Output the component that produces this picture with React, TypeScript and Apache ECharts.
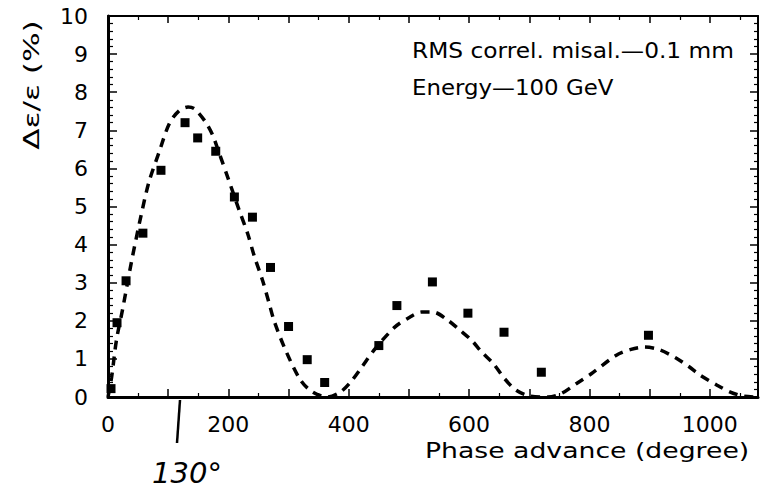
import React, { useEffect, useRef } from "react";
import * as echarts from "echarts";

// Measured emittance growth points (phase advance in degrees, Δε/ε in %)
const pointPhase = [5, 15, 30, 58, 88, 128, 149, 179, 210, 240, 270, 300, 331, 360, 450, 480, 539, 598, 658, 720, 898];
const pointGrowth = [0.22, 1.95, 3.05, 4.3, 5.95, 7.2, 6.8, 6.45, 5.25, 4.72, 3.4, 1.85, 0.98, 0.38, 1.35, 2.4, 3.02, 2.2, 1.7, 0.65, 1.62];

// Dashed theoretical curve
const curvePhase = [0, 6, 14, 24, 39, 55, 68, 85, 102, 118, 133, 144, 162, 174, 185, 200, 218, 232, 243, 257, 267, 276, 295, 320, 340, 364, 386, 403, 422, 444, 477, 502, 521, 540, 565, 585, 604, 621, 640, 659, 678, 700, 731, 753, 778, 803, 844, 869, 891, 916, 943, 965, 984, 1012, 1034, 1056, 1075];
const curveGrowth = [0, 0.52, 1.49, 2.28, 3.55, 4.77, 5.64, 6.43, 7.18, 7.51, 7.61, 7.56, 7.22, 6.87, 6.39, 5.72, 4.9, 4.29, 3.7, 3.05, 2.5, 2.0, 1.23, 0.44, 0.13, 0, 0.13, 0.39, 0.79, 1.27, 1.84, 2.1, 2.23, 2.23, 2.01, 1.75, 1.49, 1.18, 0.88, 0.48, 0.18, 0.03, 0, 0.09, 0.35, 0.61, 1.09, 1.25, 1.31, 1.24, 1.03, 0.8, 0.57, 0.31, 0.13, 0.02, 0];

const xTickLabels = ["0", "200", "400", "600", "800", "1000"];

const xTitle = "Phase advance (degree)";
const yTitle = "Δε/ε (%)";
const note1 = "RMS correl. misal.—0.1 mm";
const note2 = "Energy—100 GeV";
const handNote = "130°";

export default function App() {
  const ref = useRef<HTMLDivElement>(null);
  useEffect(() => {
    if (!ref.current) return;
    const chart = echarts.init(ref.current, null, { renderer: "svg" });
    const font = "DejaVu Sans";
    const black = "#000";
    const baseX = {
      type: "value",
      min: 0,
      max: 1080,
      interval: 100,
      splitLine: { show: false },
    };
    const baseY = {
      type: "value",
      min: 0,
      max: 10,
      interval: 1,
      splitLine: { show: false },
    };
    chart.setOption({
      animation: false,
      backgroundColor: "#fff",
      textStyle: { fontFamily: font },
      grid: { left: 108, right: 2, top: 16, bottom: 95, containLabel: false },
      xAxis: [
        {
          ...baseX,
          position: "bottom",
          axisLine: { onZero: false, lineStyle: { color: black, width: 3 } },
          axisTick: { inside: true, length: 8, lineStyle: { color: black, width: 1.5 } },
          minorTick: { show: true, splitNumber: 2, length: 4, lineStyle: { color: black, width: 1.2 } },
          axisLabel: {
            color: black,
            fontSize: 22,
            fontFamily: font,
            margin: 16,
            showMaxLabel: true,
            formatter: (v: number) => (xTickLabels.includes(String(v)) ? String(v) : ""),
          },
        },
        {
          ...baseX,
          position: "top",
          axisLine: { onZero: false, lineStyle: { color: black, width: 2 } },
          axisTick: { inside: true, length: 7, lineStyle: { color: black, width: 1.5 } },
          minorTick: { show: true, splitNumber: 2, length: 4, lineStyle: { color: black, width: 1.2 } },
          axisLabel: { show: false },
        },
      ],
      yAxis: [
        {
          ...baseY,
          position: "left",
          axisLine: { onZero: false, lineStyle: { color: black, width: 3 } },
          axisTick: { inside: true, length: 9, lineStyle: { color: black, width: 1.5 } },
          minorTick: { show: true, splitNumber: 5, length: 5, lineStyle: { color: black, width: 1.2 } },
          axisLabel: { color: black, fontSize: 22, fontFamily: font, margin: 20 },
        },
        {
          ...baseY,
          position: "right",
          axisLine: { onZero: false, lineStyle: { color: black, width: 2 } },
          axisTick: { inside: true, length: 8, lineStyle: { color: black, width: 1.5 } },
          minorTick: { show: true, splitNumber: 5, length: 4, lineStyle: { color: black, width: 1.2 } },
          axisLabel: { show: false },
        },
      ],
      series: [
        {
          type: "line",
          xAxisIndex: 0,
          yAxisIndex: 0,
          data: curvePhase.map((x, i) => [x, curveGrowth[i]]),
          showSymbol: false,
          smooth: 0.3,
          lineStyle: { color: black, width: 3.5, type: [9, 7] },
          z: 2,
        },
        {
          type: "scatter",
          xAxisIndex: 0,
          yAxisIndex: 0,
          data: pointPhase.map((x, i) => [x, pointGrowth[i]]),
          symbol: "rect",
          symbolSize: 9,
          itemStyle: { color: black, opacity: 1 },
          z: 3,
        },
      ],
      graphic: [
        {
          type: "text",
          x: 412,
          y: 50,
          scaleX: 1.11,
          style: { text: note1, font: `21px '${font}'`, fill: black, textAlign: "left", textVerticalAlign: "middle" },
        },
        {
          type: "text",
          x: 412,
          y: 88,
          scaleX: 1.09,
          style: { text: note2, font: `21px '${font}'`, fill: black, textAlign: "left", textVerticalAlign: "middle" },
        },
        {
          type: "text",
          x: 425,
          y: 451,
          scaleX: 1.27,
          style: { text: xTitle, font: `21px '${font}'`, fill: black, textAlign: "left", textVerticalAlign: "middle" },
        },
        {
          type: "text",
          x: 31,
          y: 85,
          rotation: Math.PI / 2,
          scaleX: 1.42,
          style: { text: yTitle, font: `22px '${font}'`, fill: black, textAlign: "center", textVerticalAlign: "middle" },
        },
        {
          type: "line",
          shape: { x1: 180, y1: 400, x2: 177, y2: 443 },
          style: { stroke: black, lineWidth: 2.5 },
        },
        {
          type: "text",
          x: 187,
          y: 473,
          style: { text: handNote, font: `italic 29px '${font}'`, fill: black, textAlign: "center", textVerticalAlign: "middle" },
        },
      ],
    });
    return () => chart.dispose();
  }, []);
  return (
    <div
      ref={ref}
      style={{ position: "fixed", left: 0, top: 0, width: 761, height: 492, background: "#fff" }}
    />
  );
}
